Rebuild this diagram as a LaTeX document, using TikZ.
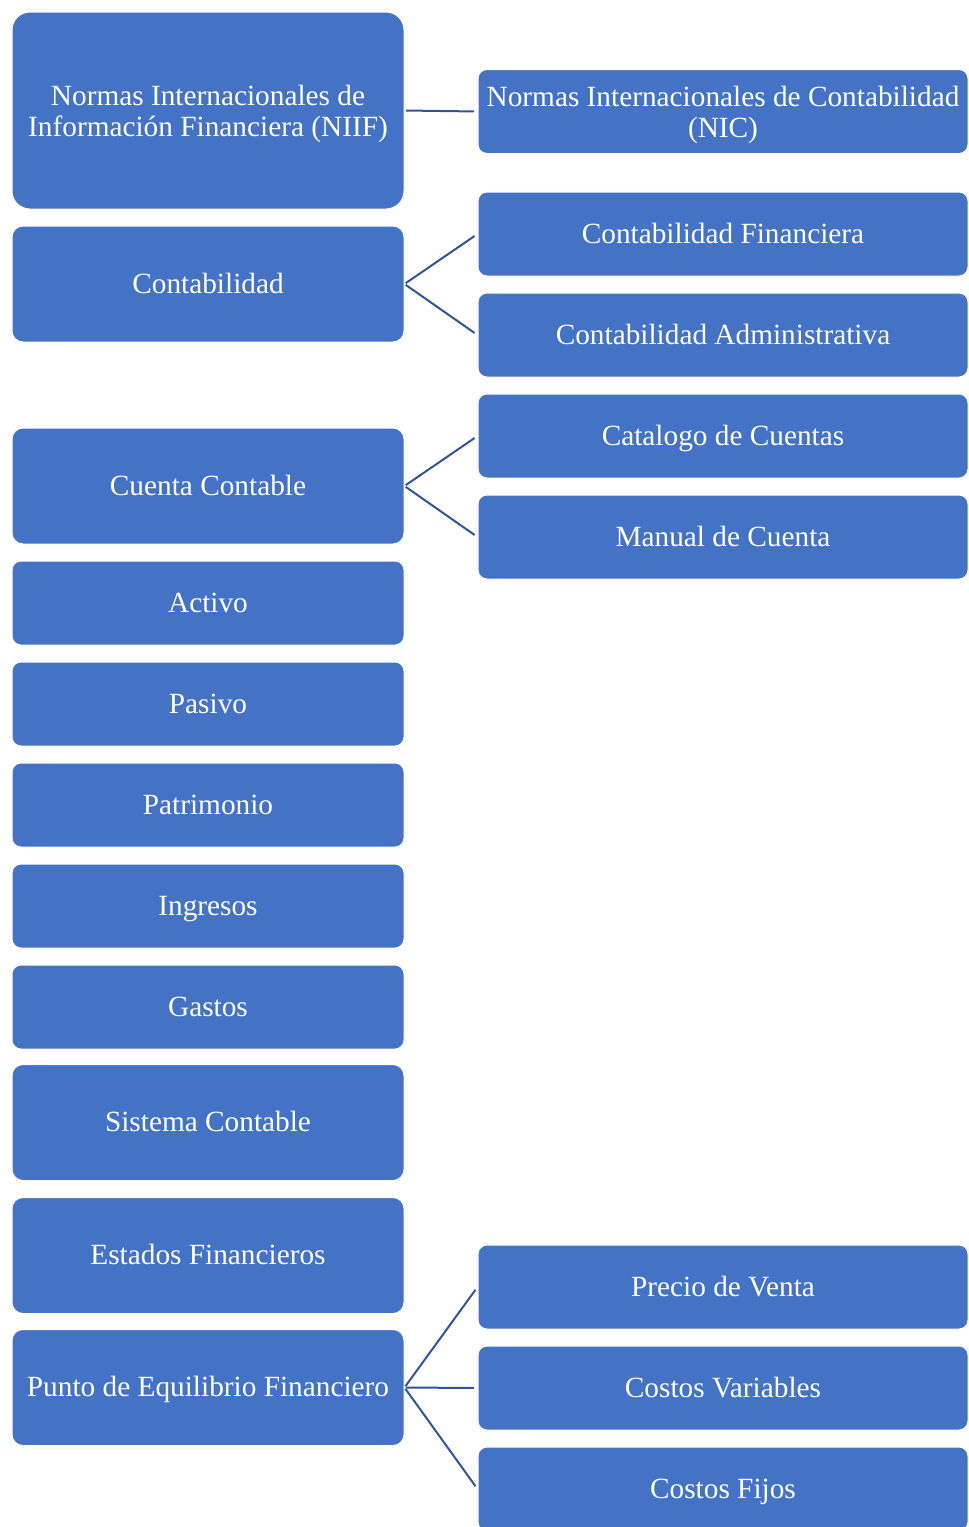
\documentclass[tikz,border=0pt]{standalone}
\usepackage{fontspec}
\setmainfont{Liberation Serif}
\usepackage{tikz}
\usetikzlibrary{positioning}
\definecolor{smartblue}{HTML}{4472C4}
\definecolor{linkblue}{HTML}{2F5597}
\newcommand{\toplift}{\rule{0pt}{27pt}}

\begin{document}
\begin{tikzpicture}[
    x=1pt, y=-1pt,
    box/.style={rectangle, draw=white, fill=smartblue, line width=1pt, text=white, align=center, inner sep=4pt, font=\fontsize{29.3}{30.5}\selectfont, rounded corners=9pt},
    oneline/.style={box, text height=20pt, text depth=1.5pt},
    bigbox/.style={oneline, minimum width=392pt, minimum height=116pt, rounded corners=11pt},
    flatbox/.style={oneline, minimum width=392pt, minimum height=84pt},
    sidebox/.style={oneline, minimum width=490pt, minimum height=84pt},
    link/.style={draw=linkblue, line width=2pt, shorten <=1.5pt, shorten >=3.5pt}
]
    \useasboundingbox (0,0) rectangle (969,1527);

    % Left column
    \node[box, minimum width=392pt, minimum height=197pt, rounded corners=18pt] (niif) at (208,110.5) {\toplift Normas Internacionales de\\Información Financiera (NIIF)};
    \node[bigbox] (contab) at (208,284) {Contabilidad};
    \node[bigbox] (cuenta) at (208,486) {Cuenta Contable};
    \node[flatbox] (activo) at (208,603) {Activo};
    \node[flatbox] (pasivo) at (208,704) {Pasivo};
    \node[flatbox] (patrim) at (208,805) {Patrimonio};
    \node[flatbox] (ingresos) at (208,906) {Ingresos};
    \node[flatbox] (gastos) at (208,1007) {Gastos};
    \node[bigbox] (sistema) at (208,1122.5) {Sistema Contable};
    \node[bigbox] (estados) at (208,1255.5) {Estados Financieros};
    \node[bigbox] (punto) at (208,1387.5) {Punto de Equilibrio Financiero};

    % Right column
    \node[box, minimum width=490pt, minimum height=84pt] (nic) at (723,111.5) {\toplift Normas Internacionales de Contabilidad\\(NIC)};
    \node[sidebox] (financ) at (723,234) {Contabilidad Financiera};
    \node[sidebox] (admin) at (723,335) {Contabilidad Administrativa};
    \node[sidebox] (catalogo) at (723,436) {Catalogo de Cuentas};
    \node[sidebox] (manual) at (723,537) {Manual de Cuenta};
    \node[sidebox] (precio) at (723,1287) {Precio de Venta};
    \node[sidebox] (variables) at (723,1388) {Costos Variables};
    \node[sidebox] (fijos) at (723,1489) {Costos Fijos};

    % Links
    \draw[link] (niif.east) -- (nic.west);
    \draw[link] (contab.east) -- (financ.west);
    \draw[link] (contab.east) -- (admin.west);
    \draw[link] (cuenta.east) -- (catalogo.west);
    \draw[link] (cuenta.east) -- (manual.west);
    \draw[link] (punto.east) -- (precio.west);
    \draw[link] (punto.east) -- (variables.west);
    \draw[link] (punto.east) -- (fijos.west);
\end{tikzpicture}
\end{document}
